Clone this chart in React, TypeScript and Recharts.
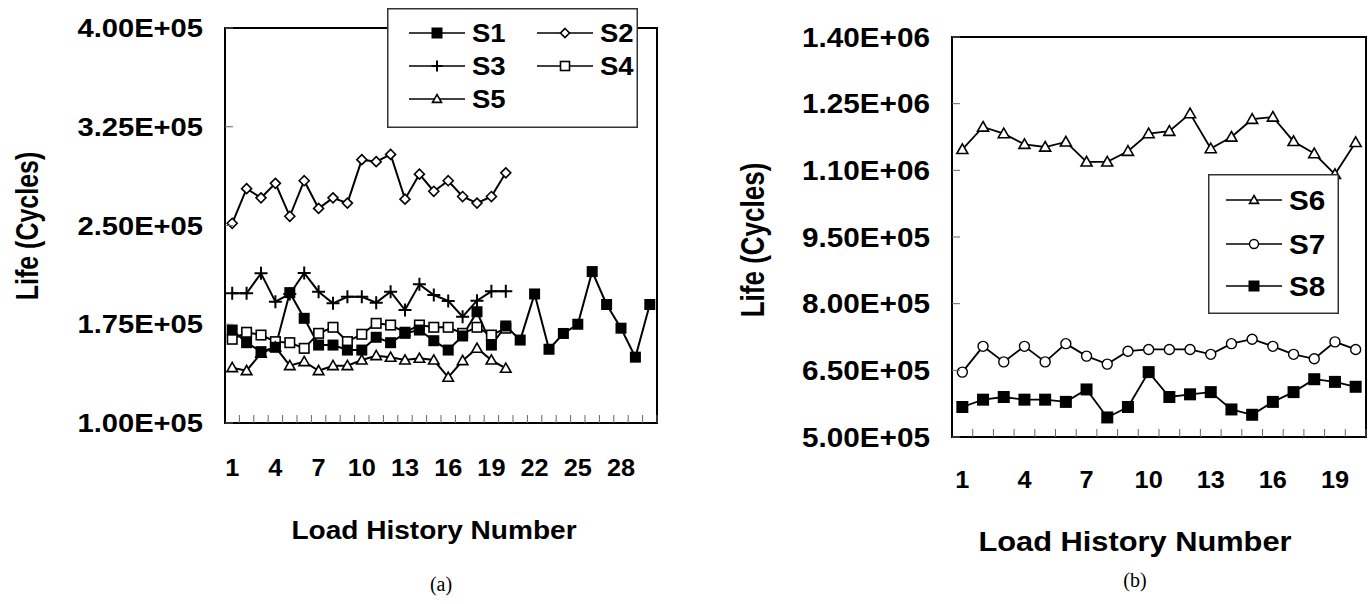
import { LineChart, Line, XAxis, YAxis, Legend } from 'recharts'

const FONT = '"Liberation Sans", Arial, Helvetica, sans-serif'
// the source figure is stretched sideways a little, so text is widened to match
const SX = 1.1

// (a) load histories 1-30
const loadsA = ['1', '2', '3', '4', '5', '6', '7', '8', '9', '10', '11', '12', '13', '14', '15', '16', '17', '18', '19', '20', '21', '22', '23', '24', '25', '26', '27', '28', '29', '30']
const s1 = [170600, 161000, 154200, 157500, 199000, 179500, 159200, 159200, 155400, 155400, 165100, 161000, 168100, 170600, 162500, 155400, 166100, 184500, 159200, 173700, 163000, 198000, 156000, 168000, 175000, 215000, 190000, 172000, 150000, 190000]
const s2 = [251700, 278000, 271000, 282000, 257000, 284000, 263000, 271000, 267000, 300000, 298500, 304000, 270000, 289000, 276000, 284000, 272000, 267000, 272000, 290000]
const s3 = [198500, 198500, 213700, 192100, 198000, 214000, 199700, 190900, 195900, 195900, 191400, 199700, 185800, 205300, 197200, 192700, 180700, 192900, 200000, 200000]
const s4 = [163600, 168900, 166800, 161800, 161000, 156700, 168100, 172700, 161800, 167400, 175700, 174400, 168900, 174400, 172700, 172700, 168100, 172700, 166800, 172000]
const s5 = [142000, 139700, 152900, 157700, 143500, 146600, 139700, 143500, 143500, 147800, 151100, 149900, 147800, 149100, 147800, 134700, 147300, 156700, 147800, 141500]
const yTicksA = [100000, 175000, 250000, 325000, 400000]

// (b) load histories 1-20
const loadsB = ['1', '2', '3', '4', '5', '6', '7', '8', '9', '10', '11', '12', '13', '14', '15', '16', '17', '18', '19', '20']
const s6 = [1147000, 1197500, 1182700, 1158600, 1152500, 1164000, 1119000, 1119000, 1143000, 1182700, 1188000, 1227700, 1149000, 1175000, 1215000, 1220000, 1165000, 1137700, 1091000, 1163000]
const s7 = [646000, 704000, 669000, 704000, 669000, 710000, 682000, 664000, 693000, 697000, 697000, 697000, 686000, 710000, 720000, 704000, 686000, 676000, 714000, 697000]
const s8 = [567500, 584000, 590000, 584000, 584000, 579000, 607000, 544000, 567500, 646000, 590000, 596000, 601000, 562000, 550000, 579000, 601000, 630000, 624000, 613000]
const yTicksB = [500000, 650000, 800000, 950000, 1100000, 1250000, 1400000]

const sci = (v: number) => {
  const e = Math.floor(Math.log10(v))
  return `${(v / 10 ** e).toFixed(2)}E+${String(e).padStart(2, '0')}`
}

const Txt = ({ x, y, anchor = 'middle', size = 21, rotate = false, stretch = SX, children }: any) => (
  <text
    transform={rotate ? `translate(${x},${y}) rotate(-90) scale(1,${stretch})` : `translate(${x},${y}) scale(${stretch},1)`}
    textAnchor={anchor}
    dominantBaseline="central"
    fontFamily={FONT}
    fontWeight="bold"
    fontSize={size}
    fill="#000"
  >
    {children}
  </text>
)

function markerShape(kind: string, x: number, y: number, size: number) {
  const h = size / 2
  switch (kind) {
    case 'fsquare':
      return <rect x={x - h} y={y - h} width={size} height={size} fill="#000" />
    case 'square':
      return <rect x={x - h} y={y - h} width={size} height={size} fill="#fff" stroke="#000" strokeWidth={1.6} />
    case 'diamond':
      return <polygon points={`${x},${y - h} ${x + h},${y} ${x},${y + h} ${x - h},${y}`} fill="#fff" stroke="#000" strokeWidth={1.6} />
    case 'plus':
      return <path d={`M${x - h},${y}H${x + h}M${x},${y - h}V${y + h}`} stroke="#000" strokeWidth={2} />
    case 'triangle':
      return <polygon points={`${x},${y - h} ${x + h},${y + h * 0.75} ${x - h},${y + h * 0.75}`} fill="#fff" stroke="#000" strokeWidth={1.6} />
    default:
      return <circle cx={x} cy={y} r={h} fill="#fff" stroke="#000" strokeWidth={1.4} />
  }
}

const dotFor = (kind: string, size: number) => (p: any) => {
  const key = `${kind}-${p.index}`
  if (p.cx == null || p.cy == null || p.value == null) return <g key={key} />
  return <g key={key}>{markerShape(kind, p.cx, p.cy, size)}</g>
}

const makeYTick = (size: number) => (p: any) => (
  <g>
    <line x1={p.x} x2={p.x + 8} y1={p.y} y2={p.y} stroke="#666" />
    <Txt x={p.x - 22} y={p.y} anchor="end" size={size}>{sci(p.payload.value)}</Txt>
  </g>
)

const makeXTick = (bw: number, gap: number, size: number) => (p: any) => (
  <g>
    <line x1={p.x + bw / 2} x2={p.x + bw / 2} y1={p.y} y2={p.y - 8} stroke="#666" />
    {p.index % 3 === 0 && <Txt x={p.x} y={p.y + gap} size={size}>{p.payload.value}</Txt>}
  </g>
)

const LegendBox = ({ w, h, items, size }: any) => (
  <svg width={w} height={h} style={{ display: 'block' }}>
    <rect x={0.75} y={0.75} width={w - 1.5} height={h - 1.5} fill="#fff" stroke="#333" strokeWidth={1.5} />
    {items.map((it: any) => (
      <g key={it.name}>
        <line x1={it.x} x2={it.x + 56} y1={it.y} y2={it.y} stroke="#000" strokeWidth={1.7} />
        {markerShape(it.kind, it.x + 28, it.y, it.size)}
        <Txt x={it.x + 63} y={it.y} anchor="start" size={size}>{it.name}</Txt>
      </g>
    ))}
  </svg>
)

const legendA = [
  { name: 'S1', kind: 'fsquare', size: 11, x: 22, y: 25 },
  { name: 'S2', kind: 'diamond', size: 9, x: 150, y: 25 },
  { name: 'S3', kind: 'plus', size: 11, x: 22, y: 58 },
  { name: 'S4', kind: 'square', size: 9, x: 150, y: 58 },
  { name: 'S5', kind: 'triangle', size: 9, x: 22, y: 91 },
]

const legendB = [
  { name: 'S6', kind: 'triangle', size: 9, x: 18, y: 26 },
  { name: 'S7', kind: 'circle', size: 9, x: 18, y: 70 },
  { name: 'S8', kind: 'fsquare', size: 11, x: 18, y: 112 },
]

const frame = (left: number, top: number, width: number, height: number): any => ({
  position: 'absolute', left, top, width, height, border: '2px solid #000', boxSizing: 'border-box',
})

function ChartA() {
  const data = loadsA.map((n, i) => ({
    n, s1: s1[i] ?? null, s2: s2[i] ?? null, s3: s3[i] ?? null, s4: s4[i] ?? null, s5: s5[i] ?? null,
  }))
  const bw = 432 / loadsA.length
  const line = { type: 'linear' as const, stroke: '#000', strokeWidth: 2, isAnimationActive: false, activeDot: false }
  return (
    <LineChart width={700} height={604} data={data} margin={{ top: 28, right: 43, bottom: 180, left: 224 }}>
      <XAxis
        dataKey="n" scale="point" padding={{ left: bw / 2, right: bw / 2 }} interval={0}
        axisLine={false} tickLine={false} tickSize={0} tickMargin={0} height={1}
        tick={makeXTick(bw, 45, 23)}
        label={<g><Txt x={434} y={530} size={25.5}>Load History Number</Txt></g>}
      />
      <YAxis
        type="number" domain={[100000, 400000]} ticks={yTicksA} interval={0}
        axisLine={false} tickLine={false} tickSize={0} tickMargin={0} width={1}
        tick={makeYTick(26.5)}
        label={<g><Txt x={27} y={226} size={25} stretch={1.28} rotate>Life (Cycles)</Txt></g>}
      />
      <Line dataKey="s2" name="S2" {...line} dot={dotFor('diamond', 10)} />
      <Line dataKey="s3" name="S3" {...line} dot={dotFor('plus', 13)} />
      <Line dataKey="s4" name="S4" {...line} dot={dotFor('square', 9.5)} />
      <Line dataKey="s5" name="S5" {...line} dot={dotFor('triangle', 10.5)} />
      <Line dataKey="s1" name="S1" {...line} dot={dotFor('fsquare', 11)} />
      <Legend
        layout="vertical" align="center" verticalAlign="middle"
        wrapperStyle={{ left: 387, top: 8, width: 251, height: 120 }}
        content={() => <LegendBox w={251} h={120} items={legendA} size={25} />}
      />
    </LineChart>
  )
}

function ChartB() {
  const data = loadsB.map((n, i) => ({ n, s6: s6[i], s7: s7[i], s8: s8[i] }))
  const bw = 414 / loadsB.length
  const line = { type: 'linear' as const, stroke: '#000', strokeWidth: 1.8, isAnimationActive: false, activeDot: false }
  return (
    <LineChart width={672} height={604} data={data} margin={{ top: 37, right: 6, bottom: 166, left: 251 }}>
      <XAxis
        dataKey="n" scale="point" padding={{ left: bw / 2, right: bw / 2 }} interval={0}
        axisLine={false} tickLine={false} tickSize={0} tickMargin={0} height={1}
        tick={makeXTick(bw, 43, 23)}
        label={<g><Txt x={435} y={541} size={28}>Load History Number</Txt></g>}
      />
      <YAxis
        type="number" domain={[500000, 1400000]} ticks={yTicksB} interval={0}
        axisLine={false} tickLine={false} tickSize={0} tickMargin={0} width={1}
        tick={makeYTick(27)}
        label={<g><Txt x={52} y={240} size={26} stretch={1.28} rotate>Life (Cycles)</Txt></g>}
      />
      <Line dataKey="s6" name="S6" {...line} dot={dotFor('triangle', 11)} />
      <Line dataKey="s7" name="S7" {...line} dot={dotFor('circle', 10)} />
      <Line dataKey="s8" name="S8" {...line} dot={dotFor('fsquare', 12)} />
      <Legend
        layout="vertical" align="center" verticalAlign="middle"
        wrapperStyle={{ left: 508, top: 174, width: 131, height: 140 }}
        content={() => <LegendBox w={131} h={140} items={legendB} size={27} />}
      />
    </LineChart>
  )
}

const caption: any = {
  position: 'absolute', fontFamily: '"Liberation Serif", "Times New Roman", serif', fontSize: 20,
  transform: 'translate(-50%, -50%)', whiteSpace: 'nowrap',
}

export default function App() {
  return (
    <div style={{ position: 'absolute', left: 0, top: 0, width: 1372, height: 604, background: '#fff', overflow: 'hidden' }}>
      <div style={frame(224, 27, 434, 397)} />
      <div style={frame(951, 36, 416, 402)} />
      <div style={{ position: 'absolute', left: 0, top: 0 }}>
        <ChartA />
      </div>
      <div style={{ position: 'absolute', left: 700, top: 0 }}>
        <ChartB />
      </div>
      <div style={{ ...caption, left: 441, top: 584 }}>(a)</div>
      <div style={{ ...caption, left: 1135, top: 580 }}>(b)</div>
    </div>
  )
}
